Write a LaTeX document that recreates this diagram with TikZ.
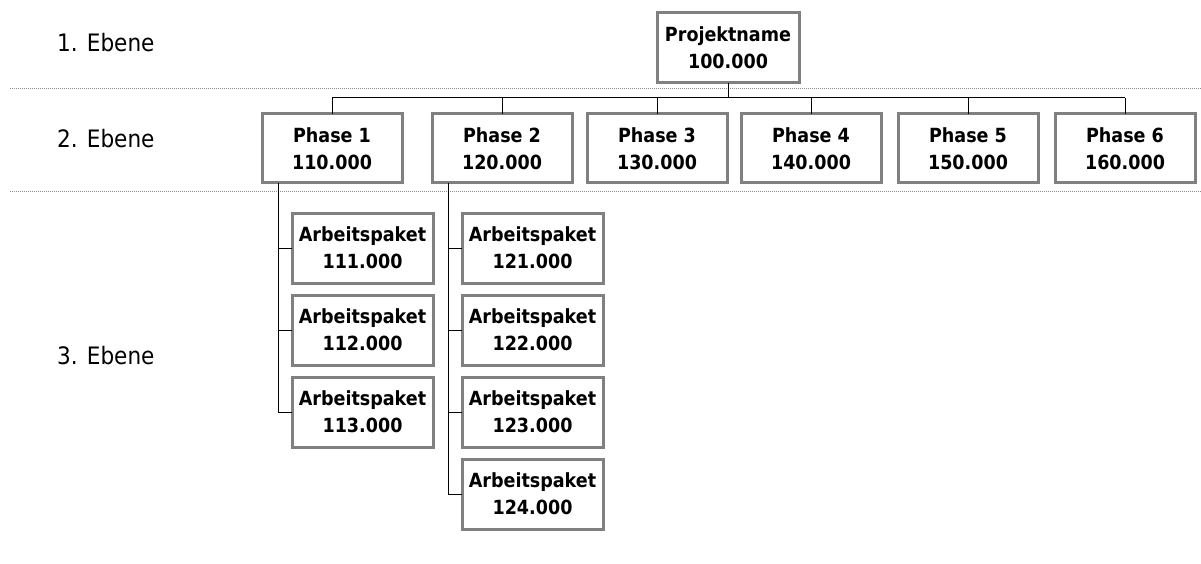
\documentclass[tikz,border=0pt]{standalone}
\usepackage{fontspec}
\setmainfont{DejaVu Sans}
\newfontfamily\boxfont{DejaVu Sans Condensed Bold}
\newfontfamily\lblfont{DejaVu Sans Condensed}
\definecolor{boxgray}{HTML}{808080}
\definecolor{dotgray}{HTML}{8C8C8C}
\begin{document}
\begin{tikzpicture}[x=1pt,y=-1pt,
  wbs/.style={draw=boxgray, line width=3pt, fill=white, align=center,
    minimum width=140pt, minimum height=69pt, inner sep=0pt, outer sep=0pt,
    font=\boxfont\fontsize{19.5}{27}\selectfont},
  lvl/.style={anchor=base west, inner sep=0pt, font=\lblfont\fontsize{24}{28}\selectfont},
  conn/.style={draw=black, line width=1pt},
  sep/.style={draw=dotgray, line width=0.8pt, dash pattern=on 1pt off 1pt}]
\useasboundingbox (0,0) rectangle (1201,564);
% level separators
\coordinate (s1a) at (10,88); \coordinate (s1b) at (1201,88);
\coordinate (s2a) at (10,191); \coordinate (s2b) at (1201,191);
\draw[sep] (s1a) -- (s1b);
\draw[sep] (s2a) -- (s2b);
% level labels
\node[lvl] (l1) at (57,52) {1. Ebene};
\node[lvl] (l2) at (57,148) {2. Ebene};
\node[lvl] (l3) at (57,364) {3. Ebene};
% nodes
\node[wbs, minimum width=142pt, minimum height=70pt] (proj) at (728,48) {Projektname\\100.000};
\node[wbs] (p1) at (332,148.5) {Phase 1\\110.000};
\node[wbs] (p2) at (502,148.5) {Phase 2\\120.000};
\node[wbs] (p3) at (657,148.5) {Phase 3\\130.000};
\node[wbs] (p4) at (811,148.5) {Phase 4\\140.000};
\node[wbs] (p5) at (968,148.5) {Phase 5\\150.000};
\node[wbs] (p6) at (1125,148.5) {Phase 6\\160.000};
\node[wbs, minimum width=141pt, minimum height=70pt] (a11) at (362.5,248) {Arbeitspaket\\111.000};
\node[wbs, minimum width=141pt, minimum height=70pt] (a12) at (362.5,330) {Arbeitspaket\\112.000};
\node[wbs, minimum width=141pt, minimum height=70pt] (a13) at (362.5,412) {Arbeitspaket\\113.000};
\node[wbs, minimum width=141pt, minimum height=70pt] (a21) at (532.5,248) {Arbeitspaket\\121.000};
\node[wbs, minimum width=141pt, minimum height=70pt] (a22) at (532.5,330) {Arbeitspaket\\122.000};
\node[wbs, minimum width=141pt, minimum height=70pt] (a23) at (532.5,412) {Arbeitspaket\\123.000};
\node[wbs, minimum width=141pt, minimum height=70pt] (a24) at (532.5,494) {Arbeitspaket\\124.000};
% connectors level 1 -> 2
\coordinate (bus) at (0,98);
\draw[conn] (proj.south) -- (proj.south |- bus);
\draw[conn] (p1.north |- bus) -- (p6.north |- bus);
\foreach \p in {p1,p2,p3,p4,p5,p6} \draw[conn] (\p.north |- bus) -- (\p.north);
% connectors level 2 -> 3
\coordinate (t1) at ([xshift=16pt]p1.south west);
\coordinate (t2) at ([xshift=16pt]p2.south west);
\draw[conn] (t1) |- (a13.west);
\draw[conn] (a11.west -| t1) -- (a11.west);
\draw[conn] (a12.west -| t1) -- (a12.west);
\draw[conn] (t2) |- (a24.west);
\draw[conn] (a21.west -| t2) -- (a21.west);
\draw[conn] (a22.west -| t2) -- (a22.west);
\draw[conn] (a23.west -| t2) -- (a23.west);
\end{tikzpicture}
\end{document}
